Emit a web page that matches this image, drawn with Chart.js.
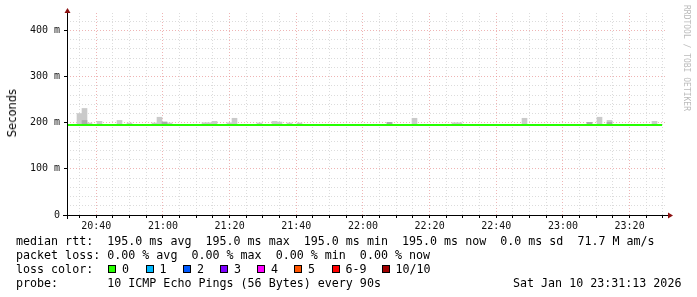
<!DOCTYPE html>
<html>
<head>
<meta charset="utf-8">
<script src="https://cdn.jsdelivr.net/npm/chart.js@4.4.1/dist/chart.umd.min.js"></script>
<style>
body { margin: 0; background: #fff; }
#wrap { position: relative; width: 697px; height: 297px; font-family: 'DejaVu Sans Mono', monospace; color: #000; overflow: hidden; }
#wrap canvas { position: absolute; left: 0; top: 0; }
.txt { position: absolute; white-space: pre; font-size: 11.66px; line-height: 14px; }
.sw { position: absolute; top: 265px; width: 8px; height: 8px; box-sizing: border-box; border: 1px solid #000; }
#ylabel { position: absolute; left: 5px; top: 89px; font-family: 'DejaVu Sans', sans-serif; font-size: 11.5px; writing-mode: vertical-rl; transform: rotate(180deg); }
#mark { position: absolute; left: 682px; top: 5px; font-size: 8px; color: #bbbbbb; writing-mode: vertical-rl; }
</style>
</head>
<body>
<div id="wrap">
  <canvas id="chart" width="697" height="297"></canvas>
  <div id="ylabel">Seconds</div>
  <div id="mark">RRDTOOL / TOBI OETIKER</div>
  <div class="txt" style="left:16px; top:234px">median rtt:  195.0 ms avg  195.0 ms max  195.0 ms min  195.0 ms now  0.0 ms sd  71.7 M am/s</div>
  <div class="txt" style="left:16px; top:248px">packet loss: 0.00 % avg  0.00 % max  0.00 % min  0.00 % now</div>
  <div class="txt" style="left:16px; top:262px">loss color:</div>
  <div id="loss"></div>
  <div class="txt" style="left:16px; top:276px">probe:       10 ICMP Echo Pings (56 Bytes) every 90s</div>
  <div class="txt" style="left:513px; top:276px">Sat Jan 10 23:31:13 2026</div>
</div>
<script>
// 时间范围
const startTime = '20:31:13';
const endTime = '23:31:13';

// 刻度标签
const timeLabels = ['20:40', '21:00', '21:20', '21:40', '22:00', '22:20', '22:40', '23:00', '23:20'];
const yTickValues = [0, 100, 200, 300, 400];
const yTickLabels = ['0', '100 m', '200 m', '300 m', '400 m'];

// 中位数 (ms)
const medianTimes = ['20:31:13', '23:29:45'];
const medianValues = [195, 195];

// 烟雾 (浅灰)
const smokeBase = 195;
const smokeTimes = ['20:34:58', '20:36:28', '20:37:58', '20:40:58', '20:46:58', '20:49:58',
    '20:57:28', '20:58:58', '21:00:28', '21:01:58', '21:12:28', '21:13:58', '21:15:28',
    '21:19:58', '21:21:28', '21:28:58', '21:33:28', '21:34:58', '21:37:58', '21:40:58',
    '22:07:58', '22:15:28', '22:27:28', '22:28:58', '22:48:28', '23:07:58', '23:10:58',
    '23:13:58', '23:27:28'];
const smokeTops = [220, 231, 199.5, 203, 205, 199.5,
    199.5, 212, 201.5, 199.5, 200, 200, 203,
    200, 209.7, 199.5, 203, 201.5, 199.5, 199.5,
    201, 209.7, 200, 200, 209.7, 201, 212,
    205, 203];

// 烟雾 (深灰)
const darkTimes = ['20:36:28', '21:00:28', '22:07:58', '23:07:58', '23:13:58'];
const darkTops = [205, 201.5, 201, 201, 201];

// 丢包颜色
const lossLabels = ['0', '1', '2', '3', '4', '5', '6-9', '10/10'];
const lossColors = ['#26ff00', '#00b8ff', '#0059ff', '#7e00ff', '#ff00ff', '#ff5500', '#ff0000', '#a10000'];
const lossPos = [108, 145.5, 183, 220, 257, 294, 331.5, 381.5];

// 时间转分钟
function toMin(t) {
    const p = t.split(':').map(Number);
    return p[0] * 60 + p[1] + (p[2] || 0) / 60;
}

function fmtMin(v) {
    const h = Math.floor(v / 60), m = Math.round(v % 60);
    return `${h.toString().padStart(2, '0')}:${m.toString().padStart(2, '0')}`;
}

// 图例色块
const lossEl = document.getElementById('loss');
lossEl.innerHTML = lossLabels.map((l, i) => `
    <div class="sw" style="left:${lossPos[i]}px; background:${lossColors[i]}"></div>
    <div class="txt" style="left:${lossPos[i] + 14}px; top:262px">${l}</div>
`).join('');

const xMin = toMin(startTime), xMax = toMin(endTime);
const majorGrid = 'rgba(228, 130, 130, 0.6)';
const minorGrid = 'rgba(205, 205, 205, 0.7)';

// 坐标轴箭头
const arrows = {
    id: 'arrows',
    afterDraw(chart) {
        const { ctx, chartArea: a } = chart;
        ctx.save();
        ctx.strokeStyle = '#000';
        ctx.lineWidth = 1;
        ctx.beginPath();
        ctx.moveTo(a.left + 0.5, a.bottom + 4);
        ctx.lineTo(a.left + 0.5, a.top - 1);
        ctx.moveTo(a.left - 4, a.bottom + 0.5);
        ctx.lineTo(a.right + 1, a.bottom + 0.5);
        ctx.stroke();
        ctx.fillStyle = '#8b1010';
        ctx.beginPath();
        ctx.moveTo(a.left + 0.5, a.top - 5);
        ctx.lineTo(a.left - 2.5, a.top);
        ctx.lineTo(a.left + 3.5, a.top);
        ctx.closePath();
        ctx.fill();
        ctx.beginPath();
        ctx.moveTo(a.right + 6, a.bottom + 0.5);
        ctx.lineTo(a.right + 1, a.bottom - 2.5);
        ctx.lineTo(a.right + 1, a.bottom + 3.5);
        ctx.closePath();
        ctx.fill();
        ctx.restore();
    }
};

new Chart(document.getElementById('chart').getContext('2d'), {
    type: 'bar',
    data: {
        datasets: [{
            type: 'line',
            data: medianTimes.map((t, i) => ({ x: toMin(t), y: medianValues[i] })),
            borderColor: '#26ff00',
            borderWidth: 2,
            pointRadius: 0,
            order: 0
        }, {
            data: darkTimes.map((t, i) => ({ x: toMin(t), y: [smokeBase, darkTops[i]] })),
            backgroundColor: '#ababab',
            grouped: false,
            barPercentage: 1,
            categoryPercentage: 1,
            order: 1
        }, {
            data: smokeTimes.map((t, i) => ({ x: toMin(t), y: [smokeBase, smokeTops[i]] })),
            backgroundColor: '#cacaca',
            grouped: false,
            barPercentage: 1,
            categoryPercentage: 1,
            order: 2
        }]
    },
    options: {
        responsive: false,
        devicePixelRatio: 1,
        animation: false,
        layout: { padding: { top: 13, right: 30, left: 0, bottom: 0 } },
        plugins: { legend: { display: false }, tooltip: { enabled: false } },
        scales: {
            x: {
                type: 'linear',
                min: xMin,
                max: xMax,
                offset: false,
                afterFit(scale) { scale.height = 82; },
                afterBuildTicks(scale) {
                    const ticks = [];
                    for (let v = Math.ceil(xMin / 5) * 5; v <= xMax; v += 5) ticks.push({ value: v });
                    scale.ticks = ticks;
                },
                ticks: {
                    autoSkip: false,
                    maxRotation: 0,
                    padding: 2,
                    color: '#111',
                    font: { family: 'DejaVu Sans Mono', size: 10 },
                    callback: v => timeLabels.includes(fmtMin(v)) ? fmtMin(v) : ''
                },
                grid: {
                    offset: false,
                    tickLength: 3,
                    tickColor: '#000',
                    color: c => timeLabels.includes(fmtMin(c.tick.value)) ? majorGrid : minorGrid
                },
                border: { display: false, dash: [1, 2] }
            },
            y: {
                min: 0,
                max: 438,
                afterFit(scale) { scale.width = 67; },
                afterBuildTicks(scale) {
                    const ticks = [];
                    for (let v = 0; v <= 438; v += 20) ticks.push({ value: v });
                    scale.ticks = ticks;
                },
                ticks: {
                    autoSkip: false,
                    padding: 4,
                    color: '#111',
                    font: { family: 'DejaVu Sans Mono', size: 10 },
                    callback: v => {
                        const i = yTickValues.indexOf(v);
                        return i >= 0 ? yTickLabels[i] : '';
                    }
                },
                grid: {
                    tickLength: 3,
                    tickColor: c => yTickValues.includes(c.tick.value) ? '#000' : 'rgba(0,0,0,0)',
                    color: c => c.tick.value === 0 ? 'rgba(0,0,0,0)' : (yTickValues.includes(c.tick.value) ? majorGrid : minorGrid)
                },
                border: { display: false, dash: [1, 2] }
            }
        }
    },
    plugins: [arrows]
});
</script>
</body>
</html>
